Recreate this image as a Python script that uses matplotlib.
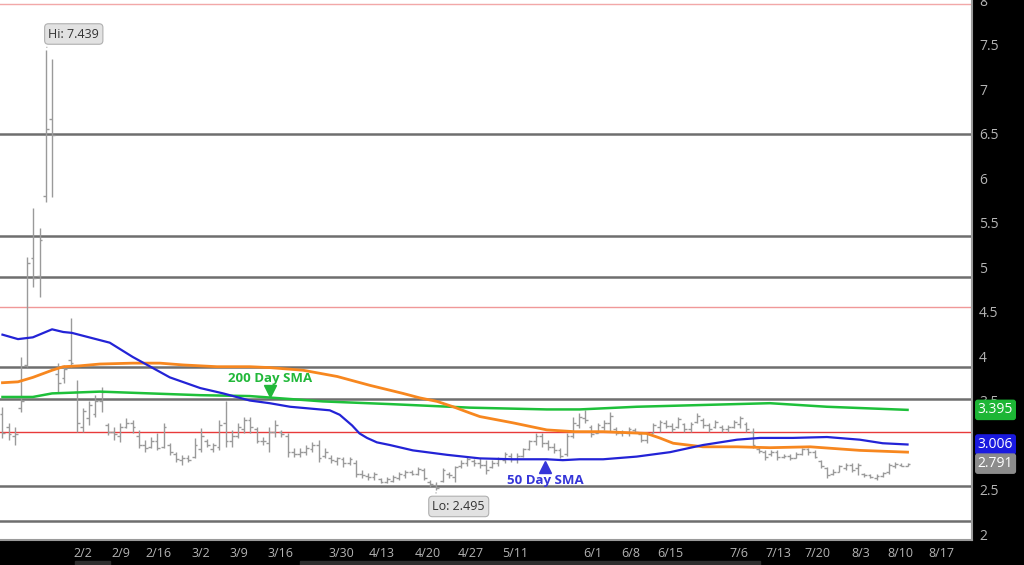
import matplotlib.pyplot as plt
from matplotlib.patches import Rectangle
import numpy as np

plt.rcParams['font.family'] = ['Open Sans', 'DejaVu Sans']

# daily OHLC bars
highs = [3.43, 3.25, 3.20, 3.99, 5.11, 5.66, 5.44, 7.439, 7.34, 3.92,
         3.90, 4.43, 3.73, 3.42, 3.50, 3.56, 3.65, 3.25, 3.20, 3.25,
         3.30, 3.28, 3.17, 3.06, 3.09, 3.13, 3.25, 3.02, 2.92, 2.89,
         2.89, 3.08, 3.19, 3.07, 3.02, 3.28, 3.50, 3.17, 3.25, 3.31,
         3.31, 3.20, 3.09, 3.20, 3.28, 3.17, 3.13, 2.97, 2.97, 3.00,
         3.03, 3.06, 2.97, 2.89, 2.87, 2.87, 2.87, 2.83, 2.72, 2.69,
         2.70, 2.63, 2.64, 2.66, 2.70, 2.72, 2.72, 2.75, 2.74, 2.61,
         2.58, 2.74, 2.70, 2.77, 2.83, 2.86, 2.84, 2.85, 2.83, 2.83,
         2.86, 2.92, 2.91, 2.91, 2.97, 3.06, 3.13, 3.13, 3.06, 3.02,
         2.97, 3.13, 3.31, 3.36, 3.39, 3.22, 3.25, 3.28, 3.37, 3.20,
         3.17, 3.20, 3.19, 3.13, 3.15, 3.25, 3.28, 3.28, 3.25, 3.31,
         3.25, 3.26, 3.36, 3.30, 3.25, 3.28, 3.22, 3.22, 3.28, 3.33,
         3.26, 3.19, 2.98, 2.94, 2.94, 2.94, 2.90, 2.90, 2.92, 2.97,
         2.97, 2.94, 2.83, 2.75, 2.73, 2.78, 2.80, 2.80, 2.80, 2.69,
         2.67, 2.67, 2.70, 2.80, 2.81, 2.80, 2.80]
lows = [3.08, 3.06, 3.00, 3.37, 3.88, 4.78, 4.66, 5.73, 5.79, 3.58,
        3.70, 3.88, 3.15, 3.15, 3.22, 3.31, 3.37, 3.11, 3.06, 3.03,
        3.19, 3.13, 2.97, 2.92, 2.97, 2.94, 2.97, 2.89, 2.81, 2.78,
        2.81, 2.85, 2.92, 2.98, 2.92, 2.94, 2.98, 2.98, 3.08, 3.13,
        3.13, 3.02, 3.00, 2.92, 3.09, 3.09, 2.87, 2.87, 2.87, 2.89,
        2.92, 2.81, 2.85, 2.80, 2.78, 2.75, 2.78, 2.64, 2.63, 2.61,
        2.61, 2.57, 2.57, 2.58, 2.61, 2.63, 2.66, 2.66, 2.61, 2.53,
        2.495, 2.58, 2.63, 2.58, 2.74, 2.76, 2.77, 2.74, 2.68, 2.74,
        2.76, 2.80, 2.81, 2.80, 2.87, 2.94, 3.00, 2.98, 2.94, 2.91,
        2.85, 2.88, 3.08, 3.19, 3.25, 3.09, 3.13, 3.17, 3.15, 3.11,
        3.10, 3.10, 3.13, 3.03, 3.02, 3.13, 3.15, 3.19, 3.15, 3.19,
        3.15, 3.15, 3.25, 3.19, 3.15, 3.19, 3.15, 3.15, 3.19, 3.19,
        3.15, 2.97, 2.91, 2.83, 2.88, 2.83, 2.85, 2.83, 2.85, 2.89,
        2.89, 2.85, 2.74, 2.63, 2.66, 2.70, 2.72, 2.70, 2.66, 2.64,
        2.63, 2.61, 2.64, 2.68, 2.74, 2.76, 2.76]
opens = [3.35, 3.20, 3.10, 3.42, 3.90, 5.10, 4.90, 5.80, 6.66, 3.80,
         3.75, 3.95, 3.60, 3.20, 3.30, 3.35, 3.50, 3.22, 3.15, 3.10,
         3.20, 3.25, 3.10, 3.00, 2.98, 3.05, 2.98, 3.00, 2.90, 2.83,
         2.85, 2.87, 2.95, 3.05, 2.95, 2.98, 3.25, 3.05, 3.10, 3.18,
         3.28, 3.18, 3.05, 3.02, 3.15, 3.15, 3.10, 2.92, 2.90, 2.92,
         2.95, 3.00, 2.88, 2.85, 2.82, 2.84, 2.80, 2.80, 2.68, 2.65,
         2.64, 2.62, 2.59, 2.60, 2.63, 2.66, 2.70, 2.68, 2.72, 2.58,
         2.55, 2.60, 2.68, 2.64, 2.76, 2.80, 2.82, 2.80, 2.78, 2.75,
         2.80, 2.83, 2.88, 2.84, 2.88, 2.96, 3.04, 3.10, 3.02, 2.98,
         2.94, 2.90, 3.10, 3.22, 3.30, 3.20, 3.14, 3.20, 3.25, 3.18,
         3.14, 3.14, 3.17, 3.12, 3.06, 3.14, 3.20, 3.25, 3.21, 3.20,
         3.24, 3.18, 3.26, 3.28, 3.22, 3.20, 3.20, 3.18, 3.20, 3.24,
         3.24, 3.15, 2.96, 2.92, 2.90, 2.92, 2.86, 2.88, 2.85, 2.90,
         2.95, 2.92, 2.82, 2.74, 2.68, 2.70, 2.74, 2.78, 2.74, 2.68,
         2.66, 2.63, 2.65, 2.70, 2.76, 2.78, 2.77]
closes = [3.13, 3.12, 3.12, 3.50, 5.04, 4.88, 5.30, 6.55, 6.48, 3.70,
          3.85, 3.92, 3.25, 3.38, 3.45, 3.50, 3.60, 3.15, 3.12, 3.20,
          3.25, 3.20, 3.00, 2.97, 3.05, 2.97, 3.20, 2.92, 2.84, 2.85,
          2.83, 3.00, 3.10, 3.00, 3.00, 3.22, 3.05, 3.10, 3.20, 3.28,
          3.20, 3.05, 3.04, 3.15, 3.22, 3.12, 2.92, 2.90, 2.92, 2.97,
          3.00, 2.85, 2.92, 2.83, 2.85, 2.80, 2.84, 2.68, 2.66, 2.64,
          2.67, 2.59, 2.62, 2.64, 2.68, 2.70, 2.68, 2.73, 2.63, 2.56,
          2.52, 2.72, 2.66, 2.75, 2.80, 2.84, 2.80, 2.78, 2.72, 2.80,
          2.84, 2.90, 2.84, 2.88, 2.95, 3.04, 3.10, 3.02, 2.98, 2.94,
          2.88, 3.10, 3.25, 3.32, 3.28, 3.12, 3.22, 3.25, 3.33, 3.14,
          3.15, 3.18, 3.15, 3.06, 3.12, 3.22, 3.26, 3.21, 3.18, 3.29,
          3.18, 3.24, 3.33, 3.22, 3.18, 3.26, 3.18, 3.20, 3.26, 3.30,
          3.18, 3.00, 2.93, 2.86, 2.92, 2.86, 2.88, 2.85, 2.90, 2.95,
          2.92, 2.87, 2.76, 2.66, 2.70, 2.76, 2.78, 2.72, 2.78, 2.66,
          2.64, 2.65, 2.69, 2.78, 2.79, 2.77, 2.791]

# moving averages sampled along the bars (bar index, value)
ma50_idx = [0, 2.5, 4.9, 8, 9.8, 11.2, 17.3, 21, 27, 31.9, 35.6, 39.9, 43.1,
            46.4, 52.8, 54.4, 56.4, 57.6, 58.8, 60.4, 62.5, 66.2, 71.7, 77,
            82.3, 87.8, 90.4, 93.1, 96.9, 102.3, 107.7, 113, 118.5, 122.2,
            127.5, 133, 138.3, 142, 146]
ma50_vals = [4.24, 4.19, 4.21, 4.30, 4.27, 4.26, 4.15, 3.99, 3.76, 3.64, 3.58,
             3.50, 3.47, 3.43, 3.39, 3.34, 3.22, 3.13, 3.08, 3.03, 3.00, 2.94,
             2.89, 2.85, 2.84, 2.84, 2.83, 2.84, 2.84, 2.87, 2.92, 3.00, 3.06,
             3.08, 3.08, 3.09, 3.06, 3.02, 3.006]
ma100_idx = [0, 2.5, 4.9, 8, 9.8, 12.5, 15.7, 21, 25.4, 29.1, 34.6, 39.9, 43.1,
             48.5, 54, 59.3, 64.6, 67.3, 70.1, 72.7, 75.4, 77, 82.3, 87.8,
             92.3, 96.9, 103.9, 106, 108.2, 113, 118.5, 123.8, 130.3, 138.3, 146]
ma100_vals = [3.70, 3.71, 3.76, 3.84, 3.88, 3.89, 3.91, 3.92, 3.92, 3.90, 3.88,
              3.88, 3.87, 3.84, 3.77, 3.67, 3.58, 3.53, 3.49, 3.43, 3.36, 3.32,
              3.25, 3.17, 3.15, 3.15, 3.13, 3.08, 3.02, 2.98, 2.98, 2.97, 2.98,
              2.94, 2.92]
ma200_idx = [0, 4.9, 8, 15.7, 23.8, 31.9, 39.9, 51.7, 62.5, 75.4, 87.8, 93.1,
             102.3, 113, 123.8, 133, 146]
ma200_vals = [3.54, 3.54, 3.58, 3.60, 3.58, 3.56, 3.55, 3.49, 3.46, 3.42, 3.40,
              3.40, 3.43, 3.45, 3.47, 3.43, 3.395]

# horizontal levels
gray_levels = [6.5, 5.35, 4.89, 3.88, 3.52, 2.54, 2.15]
red_levels = [7.955, 4.55, 3.146]
red_colors = ['#f2a8a8', '#f09898', '#e83a3a']

date_pos = [13.0, 19.1, 25.2, 32.0, 38.1, 44.8, 54.6, 61.2, 68.6, 75.6, 82.7,
            95.2, 101.4, 107.7, 118.8, 125.1, 131.4, 138.5, 144.8, 151.4]
date_labels = ['2/2', '2/9', '2/16', '3/2', '3/9', '3/16', '3/30', '4/13',
               '4/20', '4/27', '5/11', '6/1', '6/8', '6/15', '7/6', '7/13',
               '7/20', '8/3', '8/10', '8/17']
price_ticks = [2, 2.5, 3, 3.5, 4, 4.5, 5, 5.5, 6, 6.5, 7, 7.5, 8]

fig = plt.figure(figsize=(10.24, 5.65), dpi=100, facecolor='black')
ax = fig.add_axes([0, 25 / 565, 972 / 1024, 540 / 565])
ax.set_facecolor('white')
ax.set_xlim(-0.4, 156.4)
ax.set_ylim(1.933, 8.0)

for lv in gray_levels:
    ax.axhline(lv, color='#6e6e6e', lw=1.8, zorder=1)
for lv, c in zip(red_levels, red_colors):
    ax.axhline(lv, color=c, lw=1.0, zorder=1)

# OHLC bars
x = np.arange(len(highs))
bar_c = '#9a9a9a'
ax.vlines(x, lows, highs, color=bar_c, lw=1.0, zorder=2)
ax.hlines(opens, x - 0.45, x, color=bar_c, lw=1.0, zorder=2)
ax.hlines(closes, x, x + 0.45, color=bar_c, lw=1.0, zorder=2)

# moving averages
ax.plot(ma200_idx, ma200_vals, color='#1ec03a', lw=1.8, zorder=3)
ax.plot(ma100_idx, ma100_vals, color='#f7871f', lw=2.0, zorder=3)
ax.plot(ma50_idx, ma50_vals, color='#2323d6', lw=1.6, zorder=4)

# SMA labels
ax.text(43.1, 3.745, '200 Day SMA', color='#22b83a', fontsize=9.5,
        fontweight='bold', ha='center', va='center', zorder=5)
ax.plot([43.1], [3.61], marker='v', color='#22b83a', markersize=8, zorder=5)
ax.text(87.5, 2.605, '50 Day SMA', color='#3535d8', fontsize=9.5,
        fontweight='bold', ha='center', va='center', zorder=5)
ax.plot([87.5], [2.755], marker='^', color='#3535d8', markersize=8, zorder=5)

# hi / lo callouts
hi_i = int(np.argmax(highs))
lo_i = int(np.argmin(lows))
ax.annotate('Hi: %.3f' % highs[hi_i], xy=(hi_i, highs[hi_i]), xytext=(11.5, 7.618),
            ha='center', va='center', fontsize=9, color='#333333', zorder=6,
            bbox=dict(boxstyle='round,pad=0.3', fc='#e2e2e2', ec='#b0b0b0', lw=0.8),
            arrowprops=dict(arrowstyle='-', color='#909090', lw=0.8,
                            relpos=(0.02, 0.0)))
ax.annotate('Lo: %.3f' % lows[lo_i], xy=(lo_i, lows[lo_i]), xytext=(73.6, 2.31),
            ha='center', va='center', fontsize=9, color='#333333', zorder=6,
            bbox=dict(boxstyle='round,pad=0.3', fc='#e2e2e2', ec='#b0b0b0', lw=0.8),
            arrowprops=dict(arrowstyle='-', color='#909090', lw=0.8,
                            relpos=(0.05, 1.0)))

# axes styling
for s in ['top', 'left']:
    ax.spines[s].set_visible(False)
for s in ['right', 'bottom']:
    ax.spines[s].set_color('#9a9a9a')
    ax.spines[s].set_linewidth(1.5)

ax.yaxis.tick_right()
ax.set_yticks(price_ticks)
ax.set_yticklabels([('%g' % t) for t in price_ticks])
ax.tick_params(axis='y', length=0, pad=5, labelsize=10, labelcolor='#b4b4b4')
ax.set_xticks(date_pos)
ax.set_xticklabels(date_labels)
ax.tick_params(axis='x', length=0, pad=5, labelsize=9, labelcolor='#b4b4b4')

# last value boxes on the price axis
ytr = ax.get_yaxis_transform()
last_vals = [ma200_vals[-1], ma50_vals[-1], closes[-1]]
box_colors = ['#1db635', '#1a1ae0', '#8c8c8c']
for v, c in zip(last_vals, box_colors):
    ax.text(1.006, v, '%.3f' % v, transform=ytr, ha='left', va='center',
            fontsize=10, color='white', zorder=7, clip_on=False,
            bbox=dict(boxstyle='round,pad=0.15', fc=c, ec=c))

# scrollbar strips at the very bottom
fig.patches.append(Rectangle((75 / 1024, 0), 35 / 1024, 4 / 565,
                             transform=fig.transFigure, color='#2e2e2e'))
fig.patches.append(Rectangle((300 / 1024, 0), 460 / 1024, 4 / 565,
                             transform=fig.transFigure, color='#2e2e2e'))

fig.savefig('out.png', dpi=100, facecolor='black')
